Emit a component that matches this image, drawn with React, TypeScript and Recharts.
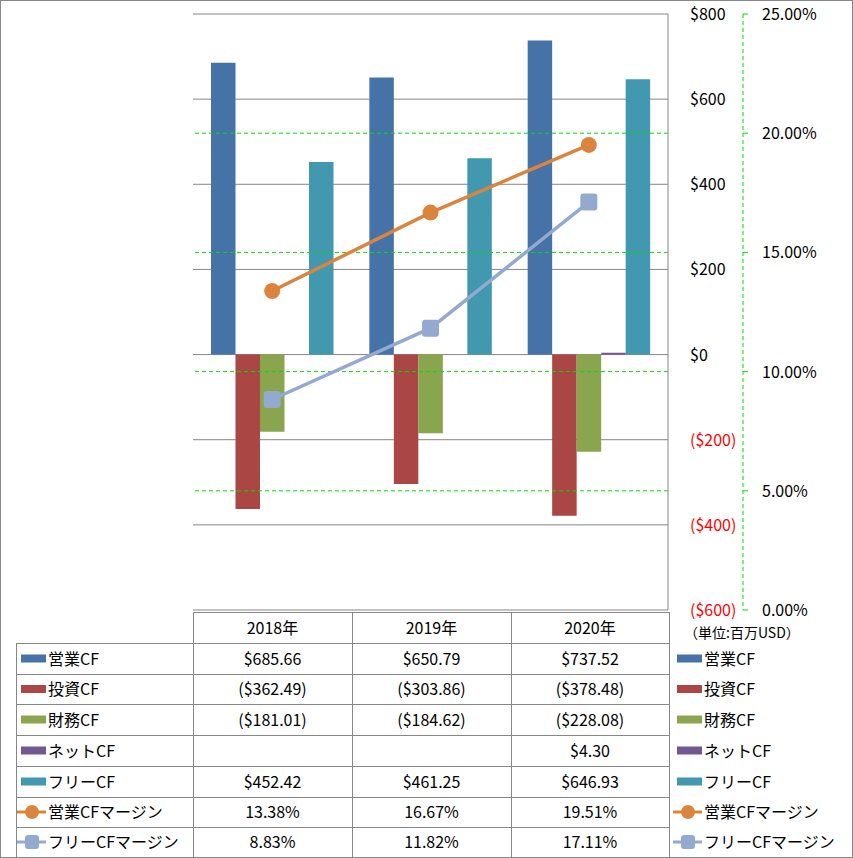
import React from "react";
import {
  ComposedChart,
  Bar,
  Line,
  XAxis,
  YAxis,
  CartesianGrid,
  ReferenceLine,
} from "recharts";

const years = ["2018年", "2019年", "2020年"];
const operatingCF = [685.66, 650.79, 737.52];
const investingCF = [-362.49, -303.86, -378.48];
const financingCF = [-181.01, -184.62, -228.08];
const netCF: (number | null)[] = [null, null, 4.3];
const freeCF = [452.42, 461.25, 646.93];
const operatingMargin = [13.38, 16.67, 19.51];
const freeMargin = [8.83, 11.82, 17.11];

const usdTicks = [-600, -400, -200, 0, 200, 400, 600, 800];
const pctTicks = [0, 5, 10, 15, 20, 25];
const pctGrid = [5, 10, 15, 20];

const FONT = '"Noto Sans CJK JP", "Noto Sans", sans-serif';
const GRID = "#868686";

const series = [
  { key: "op", name: "営業CF", color: "#4572A7", values: operatingCF, kind: "bar" },
  { key: "inv", name: "投資CF", color: "#AA4643", values: investingCF, kind: "bar" },
  { key: "fin", name: "財務CF", color: "#89A54E", values: financingCF, kind: "bar" },
  { key: "net", name: "ネットCF", color: "#71588F", values: netCF, kind: "bar" },
  { key: "free", name: "フリーCF", color: "#4198AF", values: freeCF, kind: "bar" },
  { key: "opm", name: "営業CFマージン", color: "#DB843D", values: operatingMargin, kind: "circle" },
  { key: "frm", name: "フリーCFマージン", color: "#93A9CF", values: freeMargin, kind: "square" },
];

const data = years.map((year, i) => {
  const row: Record<string, any> = { year };
  series.forEach((s) => {
    row[s.key] = s.values[i];
  });
  return row;
});

const fmtMoney = (v: number | null) =>
  v == null ? "" : v < 0 ? `($${(-v).toFixed(2)})` : `$${v.toFixed(2)}`;
const fmtPct = (v: number | null) => (v == null ? "" : `${v.toFixed(2)}%`);

const UsdTick = ({ x, y, payload }: any) => {
  const v = payload.value;
  const label = v < 0 ? `($${-v})` : `$${v}`;
  return (
    <text
      x={x}
      y={y}
      dy={6}
      fill={v < 0 ? "#FF0000" : "#000"}
      fontSize={16}
      fontFamily={FONT}
      textAnchor="start"
    >
      {label}
    </text>
  );
};

const PctTick = ({ x, y, payload }: any) => (
  <text x={x} y={y} dy={6} fill="#000" fontSize={16} fontFamily={FONT} textAnchor="start">
    {`${payload.value.toFixed(2)}%`}
  </text>
);

const makeDot = (kind: string, color: string) => (props: any) => {
  const { cx, cy, index } = props;
  if (cx == null || cy == null) return <g key={index} />;
  return kind === "circle" ? (
    <circle key={index} cx={cx} cy={cy} r={8} fill={color} />
  ) : (
    <rect key={index} x={cx - 8.5} y={cy - 8.5} width={17} height={17} rx={3} fill={color} />
  );
};

// data table geometry
const colX = [16, 193, 352, 511, 669];
const rowY = [612, 643, 674, 704, 735, 766, 797, 827, 857];

const LegendKey = ({ s, x, cy }: any) => {
  if (s.kind === "bar") {
    return <rect x={x + 4} y={cy - 4} width={25} height={8} fill={s.color} />;
  }
  return (
    <g>
      <line x1={x} x2={x + 29} y1={cy} y2={cy} stroke={s.color} strokeWidth={3} />
      {s.kind === "circle" ? (
        <circle cx={x + 15} cy={cy} r={7} fill={s.color} />
      ) : (
        <rect x={x + 8} y={cy - 7} width={14} height={14} rx={3} fill={s.color} />
      )}
    </g>
  );
};

const DataTable = () => (
  <svg
    width={853}
    height={858}
    style={{ position: "absolute", left: 0, top: 0, pointerEvents: "none" }}
    fontFamily={FONT}
  >
    <line x1={colX[1]} x2={colX[4]} y1={rowY[0] + 0.5} y2={rowY[0] + 0.5} stroke={GRID} />
    {rowY.slice(1, 8).map((y) => (
      <line key={y} x1={colX[0]} x2={colX[4]} y1={y + 0.5} y2={y + 0.5} stroke={GRID} />
    ))}
    <line x1={colX[0] + 0.5} x2={colX[0] + 0.5} y1={rowY[1]} y2={rowY[8]} stroke={GRID} />
    {colX.slice(1, 4).map((x) => (
      <line key={x} x1={x + 0.5} x2={x + 0.5} y1={rowY[0]} y2={rowY[8]} stroke={GRID} />
    ))}
    <line x1={colX[4] + 0.5} x2={colX[4] + 0.5} y1={rowY[0]} y2={rowY[8]} stroke={GRID} />
    {years.map((yr, i) => (
      <text
        key={yr}
        x={(colX[i + 1] + colX[i + 2]) / 2}
        y={(rowY[0] + rowY[1]) / 2 + 6}
        textAnchor="middle"
        fontSize={16}
      >
        {yr}
      </text>
    ))}
    {series.map((s, r) => {
      const cy = (rowY[r + 1] + rowY[r + 2]) / 2;
      const fmt = s.kind === "bar" ? fmtMoney : fmtPct;
      return (
        <g key={s.key}>
          <LegendKey s={s} x={17} cy={cy} />
          <text x={48} y={cy + 6} fontSize={16}>
            {s.name}
          </text>
          {s.values.map((v, i) => (
            <text
              key={i}
              x={(colX[i + 1] + colX[i + 2]) / 2}
              y={cy + 6}
              textAnchor="middle"
              fontSize={16}
            >
              {fmt(v as number | null)}
            </text>
          ))}
          <LegendKey s={s} x={673} cy={cy} />
          <text x={704} y={cy + 6} fontSize={16}>
            {s.name}
          </text>
        </g>
      );
    })}
    <text x={684} y={638} fontSize={14}>
      （単位:百万USD）
    </text>
    <rect x={0.5} y={0.5} width={852} height={857} fill="none" stroke={GRID} />
  </svg>
);

export default function App() {
  return (
    <div
      style={{
        position: "absolute",
        left: 0,
        top: 0,
        width: 853,
        height: 858,
        background: "#fff",
      }}
    >
      <ComposedChart
        width={853}
        height={858}
        data={data}
        margin={{ top: 14, right: 0, bottom: 248, left: 193 }}
        barSize={24.5}
        barGap={0}
      >
        <XAxis dataKey="year" hide />
        <YAxis
          yAxisId="b"
          orientation="right"
          width={110}
          domain={[0, 25]}
          ticks={pctTicks}
          interval={0}
          axisLine={{ stroke: "#00E000", strokeDasharray: "4 3" }}
          tickLine={{ stroke: "#00E000" }}
          tickSize={5}
          tickMargin={14}
          tick={<PctTick />}
        />
        <YAxis
          yAxisId="a"
          orientation="right"
          width={75}
          domain={[-600, 800]}
          ticks={usdTicks}
          interval={0}
          axisLine={{ stroke: GRID }}
          tickLine={false}
          tickSize={6}
          tickMargin={16}
          tick={<UsdTick />}
        />
        <CartesianGrid yAxisId="a" vertical={false} stroke={GRID} />
        {pctGrid.map((p) => (
          <ReferenceLine
            key={p}
            yAxisId="b"
            y={p}
            stroke="#00E000"
            strokeDasharray="4 3"
          />
        ))}
        {series
          .filter((s) => s.kind === "bar")
          .map((s) => (
            <Bar
              key={s.key}
              yAxisId="a"
              dataKey={s.key}
              name={s.name}
              fill={s.color}
              isAnimationActive={false}
            />
          ))}
        {series
          .filter((s) => s.kind !== "bar")
          .map((s) => (
            <Line
              key={s.key}
              yAxisId="b"
              dataKey={s.key}
              name={s.name}
              stroke={s.color}
              strokeWidth={3.5}
              dot={makeDot(s.kind, s.color)}
              activeDot={false}
              isAnimationActive={false}
            />
          ))}
      </ComposedChart>
      <DataTable />
    </div>
  );
}
